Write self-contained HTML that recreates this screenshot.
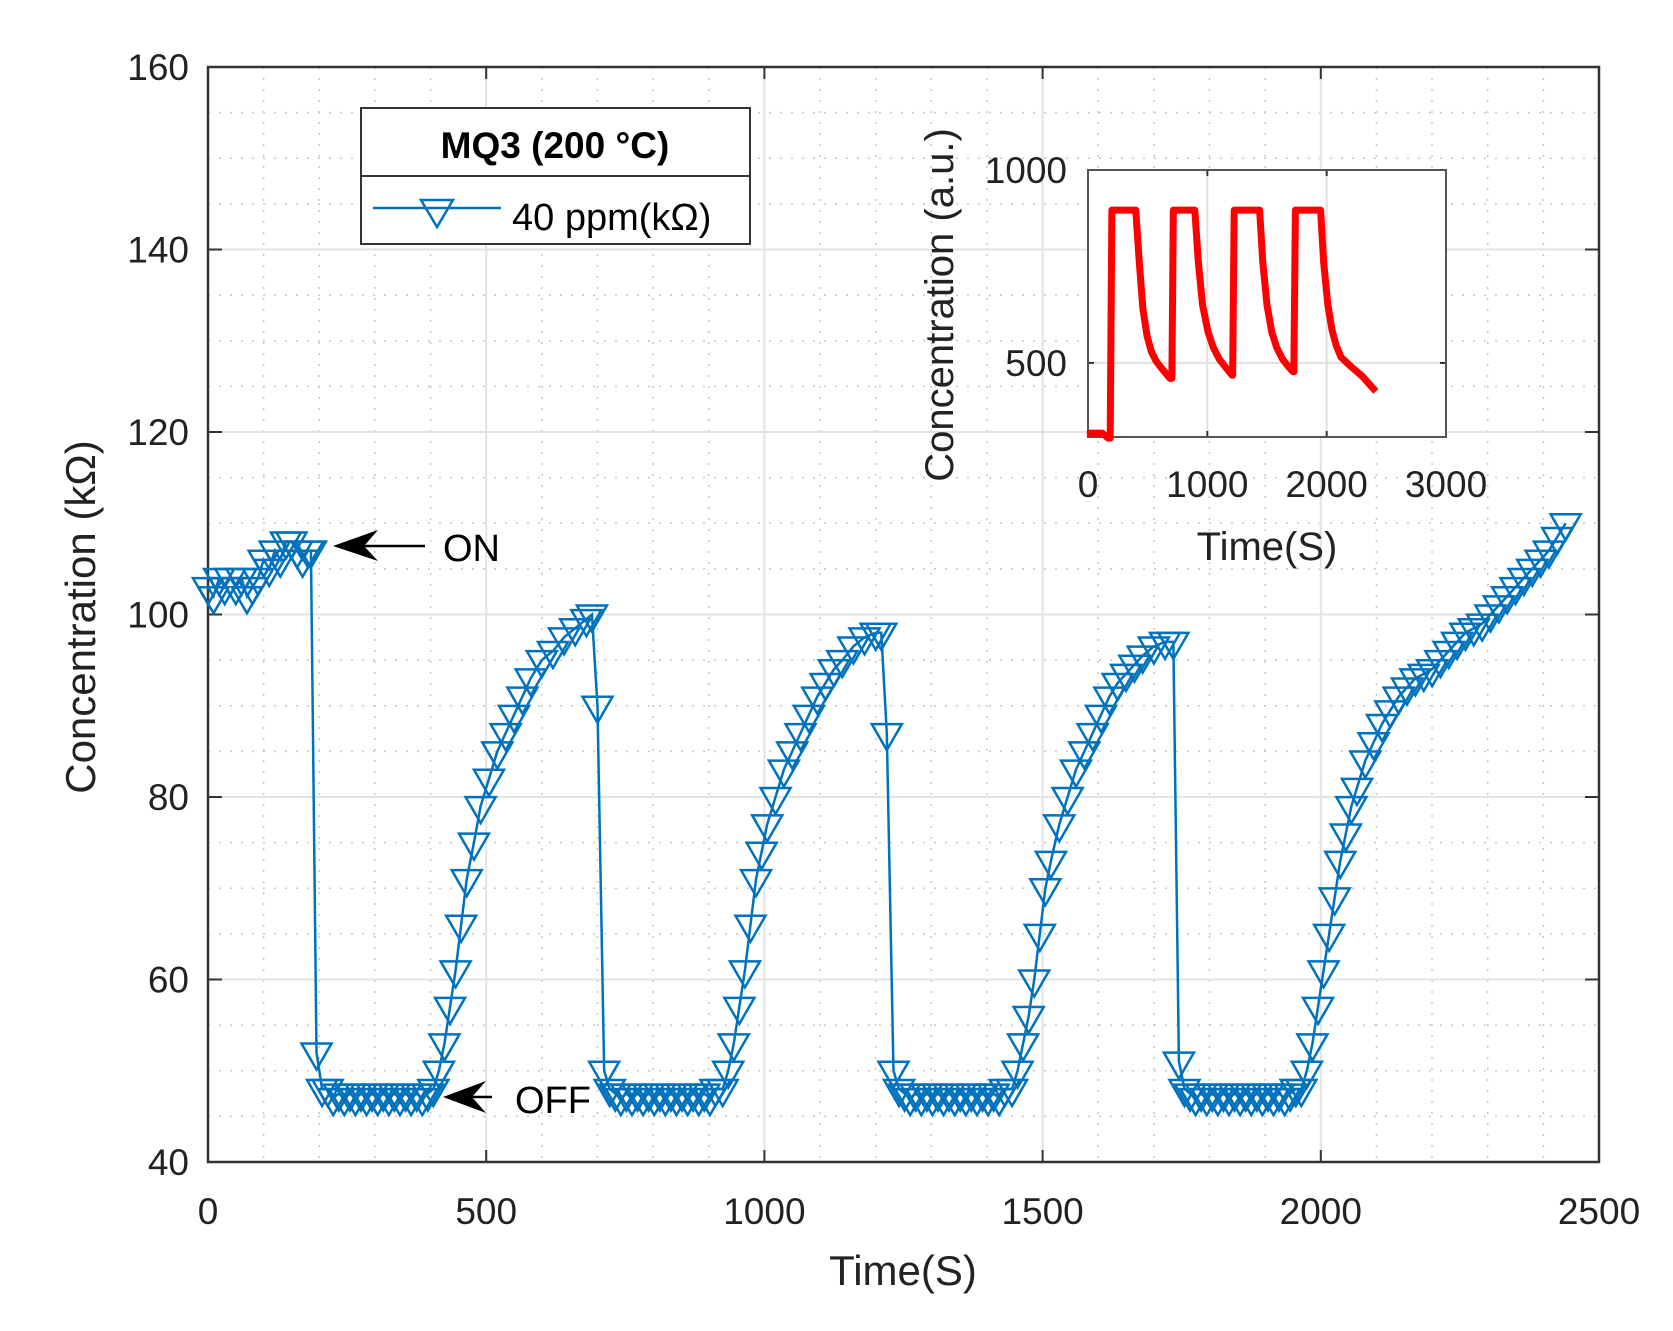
<!DOCTYPE html>
<html><head><meta charset="utf-8"><style>
html,body{margin:0;padding:0;background:#fff;}
svg{display:block;font-family:"Liberation Sans",Arial,sans-serif;}
</style></head><body>
<svg id="chart" width="1673" height="1331" viewBox="0 0 1673 1331" xmlns="http://www.w3.org/2000/svg">
<rect x="0" y="0" width="1673" height="1331" fill="#fff"/>
<g id="grid"></g>
<g id="axes"></g>
<g id="series"></g>
<g id="inset"></g>
<g>
<rect x="361" y="108" width="389" height="136" fill="#fff" stroke="#333" stroke-width="2"/>
<line x1="361" y1="176" x2="750" y2="176" stroke="#333" stroke-width="2"/>
<text x="555" y="158" font-size="37" font-weight="bold" text-anchor="middle">MQ3 (200 °C)</text>
<line x1="373" y1="208" x2="501" y2="208" stroke="#0072BD" stroke-width="2.5"/>
<polygon points="421,200 453,200 437,227" fill="none" stroke="#0072BD" stroke-width="2.5"/>
<text x="512" y="230" font-size="38">40 ppm(kΩ)</text>
</g>
<g>
<line x1="345" y1="546" x2="425" y2="546" stroke="#000" stroke-width="2.5"/>
<polygon points="333,546 378,530 364,546 378,561" fill="#000"/>
<text x="443" y="561" font-size="38">ON</text>
</g>
<g>
<line x1="450" y1="1097" x2="492" y2="1097" stroke="#000" stroke-width="2.5"/>
<polygon points="443,1097 486,1081 472,1097 486,1113" fill="#000"/>
<text x="515" y="1113" font-size="38">OFF</text>
</g>
</svg>
<script>
// main series data
const times = [0,10,20,30,40,50,60,70,80,90,100,110,120,130,140,150,160,170,180,185,
195,205,215,225,235,245,255,265,275,285,295,305,315,325,335,345,355,365,375,385,395,
405,415,425,435,445,455,465,478,490,505,520,535,550,565,580,600,620,640,660,680,690,
700,712,722,732,742,752,762,772,782,792,802,812,822,832,842,852,862,872,882,892,902,912,
925,935,945,955,965,975,985,995,1005,1020,1035,1050,1065,1080,1095,1110,1125,1140,1160,1180,1200,1210,
1220,1232,1242,1252,1262,1272,1282,1292,1302,1312,1322,1332,1342,1352,1362,1372,1382,1392,1402,1412,1422,1432,
1445,1455,1465,1475,1485,1495,1505,1515,1530,1545,1560,1575,1590,1605,1620,1635,1650,1665,1680,1700,1720,1735,
1745,1755,1765,1775,1785,1795,1805,1815,1825,1835,1845,1855,1865,1875,1885,1895,1905,1915,1925,1935,1945,1955,
1965,1975,1985,1995,2005,2015,2025,2035,2045,2055,2065,2080,2095,2110,2125,2140,2155,2170,2185,2200,2215,2230,2245,2260,2275,2290,2305,2320,2335,2350,2365,2380,2395,2410,2425,2440];
const values = [103,102,104,103,104,103,104,102,103,104,106,105,107,106,108,108,107,106,107,107,
52,48,48,47,47.5,47,47.5,47,47.5,47,47.5,47,47.5,47,47.5,47,47.5,47,47.5,47,47.5,
48,50,53,57,61,66,71,75,79,82,85,87,89,91,93,95,96,97.5,98.5,99.5,100,
90,50,48,47.5,47,47.5,47,47.5,47,47.5,47,47.5,47,47.5,47,47.5,47,47.5,47,47.5,47,48,
48,50,53,57,61,66,71,74,77,80,83,85,87,89,91,92.5,94,95,96.5,97.5,98,98,
87,50,48,47.5,47,47.5,47,47.5,47,47.5,47,47.5,47,47.5,47,47.5,47,47.5,47,47.5,47,48,
48,50,53,56,60,65,70,73,77,80,83,85,87,89,91,92.5,93.5,94.5,95.5,96.5,97,97,
51,48,47.5,47,47.5,47,47.5,47,47.5,47,47.5,47,47.5,47,47.5,47,47.5,47,47.5,47,47.5,48,
48,50,53,57,61,65,69,73,76,79,81,84,86,88,89.5,91,92,93,93.5,94,95,96,97,98,98.5,99,100,101,102,103,104,105,106,107,108.5,110];
const xTicks = [0,500,1000,1500,2000,2500];
const yTicks = [40,60,80,100,120,140,160];
// inset data
const insetTimes = [-10,120,170,186,200,400,430,460,495,530,570,620,687,703,715,895,925,960,1006,1050,1100,1150,1208,1212,1225,1438,1465,1500,1540,1581,1630,1680,1719,1725,1738,1949,1975,2010,2045,2080,2120,2188,2300,2412];
const insetValues = [318,318,305,305,896,896,760,640,570,530,505,485,460,460,896,896,760,650,580,540,510,490,468,468,896,896,760,650,580,540,510,490,477,477,896,896,760,650,585,545,515,495,465,426];
const insetXTicks = [0,1000,2000,3000];
const insetYTicks = [500,1000];

const NS = "http://www.w3.org/2000/svg";
function mk(tag, attrs, parent){const e=document.createElementNS(NS,tag);for(const k in attrs)e.setAttribute(k,attrs[k]);parent.appendChild(e);return e;}
const L=208,R=1599,T=67,B=1162;
const xS = v => L + (v-0)/(2500-0)*(R-L);
const yS = v => B - (v-40)/(160-40)*(B-T);
const grid=document.getElementById('grid'), axes=document.getElementById('axes'), ser=document.getElementById('series'), ins=document.getElementById('inset');
for(let v=0; v<=2500; v+=100){ if(v%500===0) continue;
  const l=mk('line',{x1:xS(v),y1:T,x2:xS(v),y2:B,stroke:'#c8c8c8','stroke-width':1.5,'stroke-dasharray':'2,9'},grid);
  
  
}
for(let v=40; v<=160; v+=5){ if(v%20===0) continue;
  const l=mk('line',{x1:L,y1:yS(v),x2:R,y2:yS(v),stroke:'#c8c8c8','stroke-width':1.5,'stroke-dasharray':'2,9'},grid);
  
  
}
xTicks.forEach(v=>{
  const g=mk('line',{x1:xS(v),y1:T,x2:xS(v),y2:B,stroke:'#e3e3e3','stroke-width':2},grid);
  
  
  mk('line',{x1:xS(v),y1:B,x2:xS(v),y2:B-12,stroke:'#333','stroke-width':2},axes);
  mk('line',{x1:xS(v),y1:T,x2:xS(v),y2:T+12,stroke:'#333','stroke-width':2},axes);
  const t=mk('text',{x:xS(v),y:1224,'font-size':37,'text-anchor':'middle',fill:'#222'},axes);
  t.textContent=v;
  
  
});
yTicks.forEach(v=>{
  const g=mk('line',{x1:L,y1:yS(v),x2:R,y2:yS(v),stroke:'#e3e3e3','stroke-width':2},grid);
  
  
  mk('line',{x1:L,y1:yS(v),x2:L+14,y2:yS(v),stroke:'#333','stroke-width':2},axes);
  mk('line',{x1:R,y1:yS(v),x2:R-14,y2:yS(v),stroke:'#333','stroke-width':2},axes);
  const t=mk('text',{x:189,y:yS(v)+13,'font-size':37,'text-anchor':'end',fill:'#222'},axes);
  t.textContent=v;
  
  
});
const box=mk('rect',{x:L,y:T,width:R-L,height:B-T,fill:'none',stroke:'#333','stroke-width':2.5},axes);


const xt=mk('text',{x:903,y:1285,'font-size':42,'text-anchor':'middle',fill:'#222'},axes);
xt.textContent='Time(S)';


const yt=mk('text',{x:0,y:0,'font-size':42,'text-anchor':'middle',fill:'#222',transform:'translate(95,617) rotate(-90)'},axes);
yt.textContent='Concentration (kΩ)';


const pl=mk('polyline',{points:times.map((t,i)=>xS(t)+','+yS(values[i])).join(' '),fill:'none',stroke:'#0072BD','stroke-width':2.5},ser);


times.forEach((t,i)=>{
  const x=xS(t), y=yS(values[i]);
  const m=mk('polygon',{points:`${x-15},${y-9} ${x+15},${y-9} ${x},${y+17}`,fill:'none',stroke:'#0072BD','stroke-width':2.5},ser);
  
  
});
const iL=1088,iR=1446,iT=170,iB=437;
const ixS=v=>iL+v/3000*(iR-iL);
const iyS=v=>iT+(1000-v)/(1000-308)*(iB-iT);
const ibg=mk('rect',{x:iL,y:iT,width:iR-iL,height:iB-iT,fill:'#fff'},ins);


insetXTicks.forEach(v=>{
  if(v>0&&v<3000){mk('line',{x1:ixS(v),y1:iT,x2:ixS(v),y2:iB,stroke:'#e0e0e0','stroke-width':2},ins);}
  mk('line',{x1:ixS(v),y1:iB,x2:ixS(v),y2:iB-6,stroke:'#333','stroke-width':2},ins);
  mk('line',{x1:ixS(v),y1:iT,x2:ixS(v),y2:iT+6,stroke:'#333','stroke-width':2},ins);
  const t=mk('text',{x:ixS(v),y:497,'font-size':37,'text-anchor':'middle',fill:'#222'},ins);
  t.textContent=v;
  
  
});
insetYTicks.forEach(v=>{
  if(v<1000){mk('line',{x1:iL,y1:iyS(v),x2:iR,y2:iyS(v),stroke:'#e0e0e0','stroke-width':2},ins);}
  mk('line',{x1:iL,y1:iyS(v),x2:iL+6,y2:iyS(v),stroke:'#333','stroke-width':2},ins);
  mk('line',{x1:iR,y1:iyS(v),x2:iR-6,y2:iyS(v),stroke:'#333','stroke-width':2},ins);
  const t=mk('text',{x:1067,y:iyS(v)+13,'font-size':37,'text-anchor':'end',fill:'#222'},ins);
  t.textContent=v;
  
  
});
const ib=mk('rect',{x:iL,y:iT,width:iR-iL,height:iB-iT,fill:'none',stroke:'#555','stroke-width':2},ins);


const il=mk('polyline',{points:insetTimes.map((t,i)=>ixS(t)+','+iyS(insetValues[i])).join(' '),fill:'none',stroke:'#ff0000','stroke-width':7,'stroke-linejoin':'round'},ins);


const ixt=mk('text',{x:1267,y:560,'font-size':40,'text-anchor':'middle',fill:'#222'},ins);
ixt.textContent='Time(S)';


const iyt=mk('text',{x:0,y:0,'font-size':40,'text-anchor':'middle',fill:'#222',transform:'translate(953,305) rotate(-90)'},ins);
iyt.textContent='Concentration (a.u.)';


</script>
</body></html>
